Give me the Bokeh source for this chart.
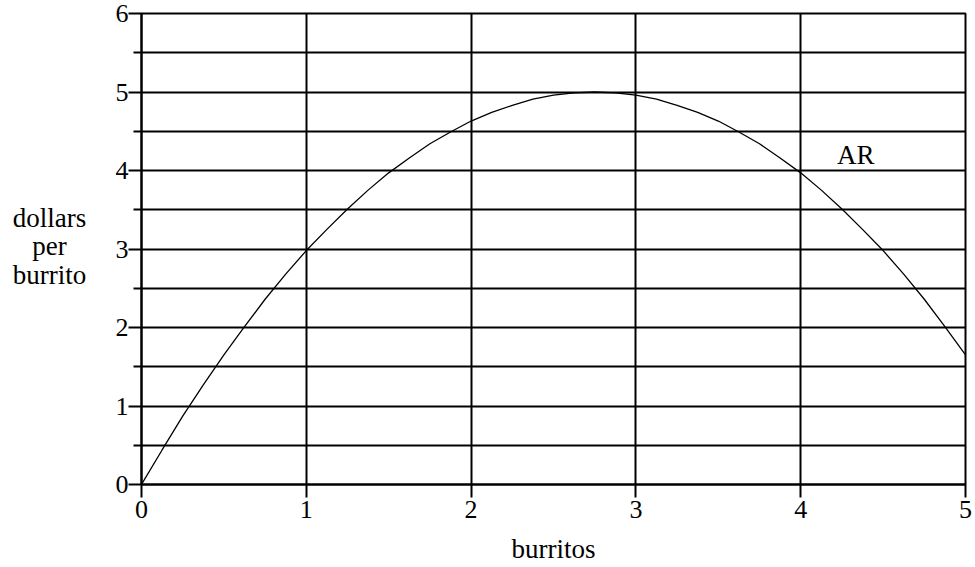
from bokeh.plotting import figure
from bokeh.models import FixedTicker, Range1d, Label
from bokeh.layouts import row
from bokeh.core.properties import value
from bokeh.embed import file_html
from bokeh.resources import INLINE

# Data (average revenue curve)
burritos = [0.0, 0.125, 0.25, 0.375, 0.5, 0.625, 0.75, 0.875, 1.0, 1.125, 1.25,
            1.375, 1.5, 1.625, 1.75, 1.875, 2.0, 2.125, 2.25, 2.375, 2.5, 2.625,
            2.75, 2.875, 3.0, 3.125, 3.25, 3.375, 3.5, 3.625, 3.75, 3.875, 4.0,
            4.125, 4.25, 4.375, 4.5, 4.625, 4.75, 4.875, 5.0]
dollars = [0.00, 0.44, 0.87, 1.27, 1.65, 2.01, 2.36, 2.68, 2.98, 3.25, 3.51,
           3.75, 3.97, 4.16, 4.34, 4.49, 4.63, 4.74, 4.83, 4.91, 4.96, 4.99,
           5.00, 4.99, 4.96, 4.91, 4.83, 4.74, 4.63, 4.49, 4.34, 4.16, 3.97,
           3.75, 3.51, 3.25, 2.98, 2.68, 2.36, 2.01, 1.65]
x_ticks = [0, 1, 2, 3, 4, 5]
y_ticks = [0, 1, 2, 3, 4, 5, 6]
y_minor = [0.5, 1.5, 2.5, 3.5, 4.5, 5.5]
y_label_lines = ["dollars", "per", "burrito"]
x_label = "burritos"
curve_label = "AR"

FONT = "Liberation Serif"
FS_NUM = "26px"
FS_TXT = "27px"
H = 566
LEFT_W = 100

# left panel holding the horizontal y-axis title (frame aligned with main plot)
side = figure(width=LEFT_W, height=H, output_backend="svg", toolbar_location=None,
              x_range=Range1d(0, LEFT_W), y_range=Range1d(0, 6),
              min_border_left=0, min_border_right=0, min_border_top=13,
              min_border_bottom=H - 485)
side.axis.visible = False
side.grid.visible = False
side.outline_line_color = None
side.text(x=[49, 49, 49], y=[3.394, 3.038, 2.669], text=y_label_lines,
          text_font=value(FONT), text_font_size=value(FS_TXT),
          text_align="center", text_baseline="middle", text_color="black")

p = figure(width=975 - LEFT_W, height=H, output_backend="svg", toolbar_location=None,
           x_range=Range1d(0, 5), y_range=Range1d(0, 6),
           min_border_left=141 - LEFT_W, min_border_right=10, min_border_top=13,
           min_border_bottom=H - 485)
p.background_fill_color = "white"
p.border_fill_color = "white"
p.outline_line_color = "black"
p.outline_line_width = 2

p.xaxis.ticker = FixedTicker(ticks=x_ticks)
p.yaxis.ticker = FixedTicker(ticks=y_ticks, minor_ticks=y_minor)
for ax in (p.xaxis, p.yaxis):
    ax.axis_line_color = "black"
    ax.axis_line_width = 2
    ax.major_tick_line_color = "black"
    ax.major_tick_line_width = 2
    ax.major_tick_out = 13
    ax.major_tick_in = 0
    ax.major_label_text_font = FONT
    ax.major_label_text_font_size = FS_NUM
    ax.major_label_text_color = "black"
p.yaxis.minor_tick_line_color = "black"
p.yaxis.minor_tick_line_width = 2
p.yaxis.minor_tick_out = 8
p.yaxis.minor_tick_in = 0
p.xaxis.minor_tick_line_color = None
p.yaxis.major_label_standoff = 0
p.xaxis.major_label_standoff = 3
p.xaxis.axis_label = x_label
p.xaxis.axis_label_text_font = FONT
p.xaxis.axis_label_text_font_size = FS_TXT
p.xaxis.axis_label_text_font_style = "normal"
p.xaxis.axis_label_text_color = "black"
p.xaxis.axis_label_standoff = 13

p.xgrid.grid_line_color = "black"
p.xgrid.grid_line_width = 2
p.xgrid.grid_line_alpha = 1.0
p.ygrid.grid_line_color = "black"
p.ygrid.grid_line_width = 2
p.ygrid.grid_line_alpha = 1.0
p.ygrid.minor_grid_line_color = "black"
p.ygrid.minor_grid_line_width = 2

p.line(burritos, dollars, line_color="black", line_width=1.3)

p.add_layout(Label(x=4.22, y=4.2, text=curve_label, text_font=FONT,
                   text_font_size=FS_TXT, text_align="left",
                   text_baseline="middle", text_color="black"))

layout = row(side, p)
open("out.html", "w").write(file_html(layout, INLINE))
